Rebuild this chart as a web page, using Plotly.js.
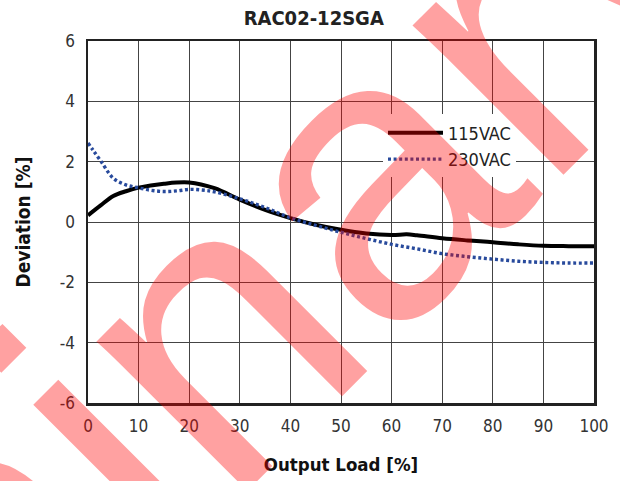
<!DOCTYPE html>
<html>
<head>
<meta charset="utf-8">
<script src="https://cdn.plot.ly/plotly-3.0.1.min.js"></script>
<style>html,body{margin:0;padding:0;background:#fff;}#chart{width:620px;height:481px;}</style>
</head>
<body>
<div id="chart"></div>
<script>
// ---- data ----
var chartTitle = 'RAC02-12SGA';
var xTitle = 'Output Load [%]';
var yTitle = 'Deviation [%]';
var seriesNames = ['115VAC', '230VAC'];

var load115 = [0, 2.5, 5, 7.5, 10, 15, 20, 25, 30, 35, 40, 45, 50, 55, 60, 63, 65, 70, 75, 80, 85, 90, 95, 100];
var dev115  = [0.22, 0.55, 0.86, 1.02, 1.14, 1.27, 1.31, 1.12, 0.74, 0.40, 0.13, -0.09, -0.26, -0.38, -0.43, -0.41, -0.44, -0.54, -0.61, -0.67, -0.74, -0.79, -0.80, -0.80];

var load230 = [0, 1, 2.5, 5, 7.5, 10, 12.5, 15, 17.5, 20, 22.5, 25, 30, 35, 40, 45, 50, 55, 60, 65, 70, 75, 80, 85, 90, 95, 100];
var dev230  = [2.62, 2.38, 2.03, 1.45, 1.23, 1.13, 1.05, 1.01, 1.03, 1.08, 1.06, 1.00, 0.77, 0.48, 0.14, -0.11, -0.34, -0.55, -0.74, -0.89, -1.05, -1.15, -1.23, -1.30, -1.34, -1.36, -1.36];

var xTicks = [0, 10, 20, 30, 40, 50, 60, 70, 80, 90, 100];
var yTicks = [-6, -4, -2, 0, 2, 4, 6];
var watermarkText = 'Preliminary';

var narrow = '"DejaVu Sans Condensed", "Liberation Sans Narrow", sans-serif';

var traces = [
  {
    x: load115, y: dev115, name: seriesNames[0], type: 'scatter', mode: 'lines',
    legendgroup: 'a',
    line: {color: '#000000', width: 4, shape: 'spline', smoothing: 1}
  },
  {
    x: load230, y: dev230, name: seriesNames[1], type: 'scatter', mode: 'lines',
    legendgroup: 'b',
    line: {color: '#284a9c', width: 3.4, dash: '3px,2.6px', shape: 'spline', smoothing: 1}
  }
];

var layout = {
  width: 620, height: 481,
  margin: {l: 88, r: 26, t: 41, b: 78, pad: 0},
  paper_bgcolor: '#ffffff', plot_bgcolor: '#ffffff',
  font: {family: narrow, color: '#333333', size: 17},
  title: {
    text: chartTitle, x: 0.506, xanchor: 'center', y: 0.962, yanchor: 'middle',
    font: {family: narrow, size: 20, color: '#222222', weight: 'bold'}
  },
  showlegend: true,
  legend: {
    x: 0.583, y: 0.797, xanchor: 'left', yanchor: 'top',
    bgcolor: '#ffffff', borderwidth: 0,
    font: {family: narrow, size: 18, color: '#222222'},
    itemwidth: 55, traceorder: 'grouped', tracegroupgap: 0
  },
  xaxis: {
    range: [0, 100], tickvals: xTicks, ticktext: xTicks.map(String),
    showgrid: true, gridcolor: '#444444', gridwidth: 1,
    zeroline: false, showline: true, mirror: true, linecolor: '#222222', linewidth: 2.5,
    ticks: 'outside', ticklen: 6, tickcolor: 'rgba(0,0,0,0)',
    tickfont: {family: narrow, size: 17, color: '#333333'},
    title: {text: xTitle, standoff: 23, font: {family: narrow, size: 18.5, color: '#111111', weight: 'bold'}}
  },
  yaxis: {
    range: [-6, 6], tickvals: yTicks, ticktext: yTicks.map(String),
    showgrid: true, gridcolor: '#444444', gridwidth: 1,
    zeroline: false, showline: true, mirror: true, linecolor: '#222222', linewidth: 2.5,
    ticks: 'outside', ticklen: 7, tickcolor: 'rgba(0,0,0,0)',
    tickfont: {family: narrow, size: 17, color: '#333333'},
    title: {text: yTitle, standoff: 24, font: {family: narrow, size: 19, color: '#111111', weight: 'bold'}}
  },
  annotations: [
    {
      text: watermarkText, xref: 'paper', yref: 'paper',
      x: -0.229, y: -0.464, xanchor: 'center', yanchor: 'middle',
      showarrow: false, textangle: -45,
      font: {family: '"Liberation Sans", Arial, sans-serif', size: 402, color: 'rgba(255,0,0,0.37)'}
    }
  ]
};

var gd = document.getElementById('chart');
Plotly.newPlot(gd, traces, layout, {displayModeBar: false, staticPlot: true}).then(function () {
  // keep the watermark above the legend, as in the reference
  var ann = gd.querySelector('.annotation');
  var leg = gd.querySelector('.legend');
  if (ann && leg && leg.parentNode) {
    leg.parentNode.appendChild(ann);
  }
});
</script>
</body>
</html>
